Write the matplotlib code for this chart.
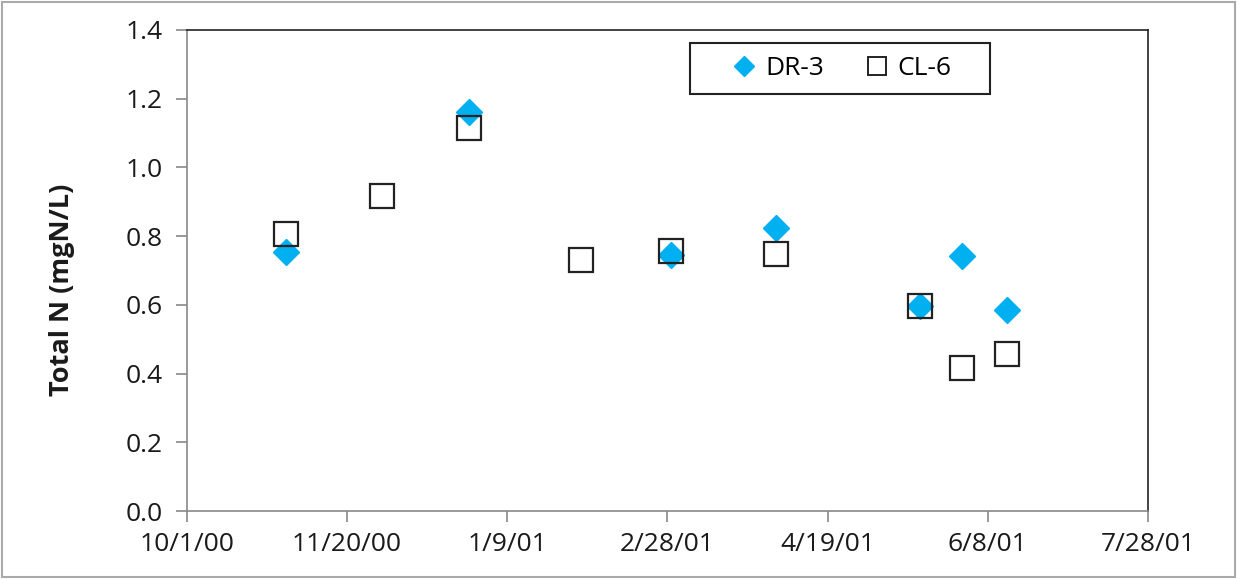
import matplotlib.pyplot as plt
import matplotlib.dates as mdates
import matplotlib.ticker as mticker
from matplotlib.lines import Line2D
import numpy as np
from datetime import datetime, timedelta

plt.rcParams['font.family'] = ['Open Sans', 'DejaVu Sans']

# DR-3
dr_dates = ['2000-11-01', '2000-12-28', '2001-03-01', '2001-04-03', '2001-05-18', '2001-05-31', '2001-06-14']
dr_vals = [0.754, 1.161, 0.745, 0.824, 0.597, 0.742, 0.585]
# CL-6
cl_dates = ['2000-11-01', '2000-12-01', '2000-12-28', '2001-02-01', '2001-03-01', '2001-04-03', '2001-05-18', '2001-05-31', '2001-06-14']
cl_vals = [0.806, 0.917, 1.115, 0.730, 0.757, 0.748, 0.597, 0.416, 0.457]

dr_x = [datetime.strptime(d, '%Y-%m-%d') for d in dr_dates]
cl_x = [datetime.strptime(d, '%Y-%m-%d') for d in cl_dates]

fig = plt.figure(figsize=(12.37, 5.79), dpi=100)
ax = fig.add_axes([0.151, 0.1174, 0.777, 0.8308])

ax.plot(dr_x, dr_vals, linestyle='none', marker='D', markersize=13,
        color='#00B0F0', markeredgecolor='#00B0F0', zorder=3)
ax.plot(cl_x, cl_vals, linestyle='none', marker='s', markersize=17,
        markerfacecolor='none', markeredgecolor='#222222', markeredgewidth=1.6, zorder=4)

start = datetime(2000, 10, 1)
ticks = [start + timedelta(days=50 * k) for k in range(7)]
ax.set_xlim(ticks[0], ticks[-1])
ax.set_xticks(ticks)
ax.xaxis.set_major_formatter(mticker.FuncFormatter(
    lambda v, p: (lambda d: f'{d.month}/{d.day}/{d.strftime("%y")}')(mdates.num2date(v))))
ax.set_ylim(0, 1.4)
ax.set_yticks(np.arange(0, 1.41, 0.2))
ax.yaxis.set_major_formatter(mticker.FormatStrFormatter('%.1f'))

ax.tick_params(axis='both', direction='out', length=8, width=1.2, color='#888888',
               labelsize=19, labelcolor='#1a1a1a')
ax.tick_params(axis='y', pad=9)
ax.tick_params(axis='x', pad=7)
ax.spines['left'].set_color('#888888')
ax.spines['bottom'].set_color('#888888')
ax.spines['top'].set_color('#222222')
ax.spines['right'].set_color('#222222')
for s in ax.spines.values():
    s.set_linewidth(1.2)

ax.set_ylabel('Total N (mgN/L)', fontsize=19.5, fontweight='bold', labelpad=37,
              color='#1a1a1a', y=0.46)

# legend
handles = [Line2D([], [], linestyle='none', marker='D', markersize=10, color='#00B0F0'),
           Line2D([], [], linestyle='none', marker='s', markersize=13, markerfacecolor='none',
                  markeredgecolor='#222222', markeredgewidth=1.4)]
box = (0.5578, 0.8377, 0.2425, 0.0881)
leg = ax.legend(handles, ['DR-3', 'CL-6'], loc='center', bbox_to_anchor=box,
                bbox_transform=fig.transFigure, ncol=2, fontsize=19, frameon=False,
                handletextpad=0.2, columnspacing=1.4, handlelength=1.2, borderaxespad=0)
fig.patches.append(plt.Rectangle(box[:2], box[2], box[3], transform=fig.transFigure,
                                 fill=False, edgecolor='#222222', linewidth=1.5, zorder=5))

# outer frame
fig.patches.append(plt.Rectangle((0.002, 0.003), 0.996, 0.994, transform=fig.transFigure,
                                 fill=False, edgecolor='#aaaaaa', linewidth=1.5))

fig.savefig('out.png', dpi=100)
